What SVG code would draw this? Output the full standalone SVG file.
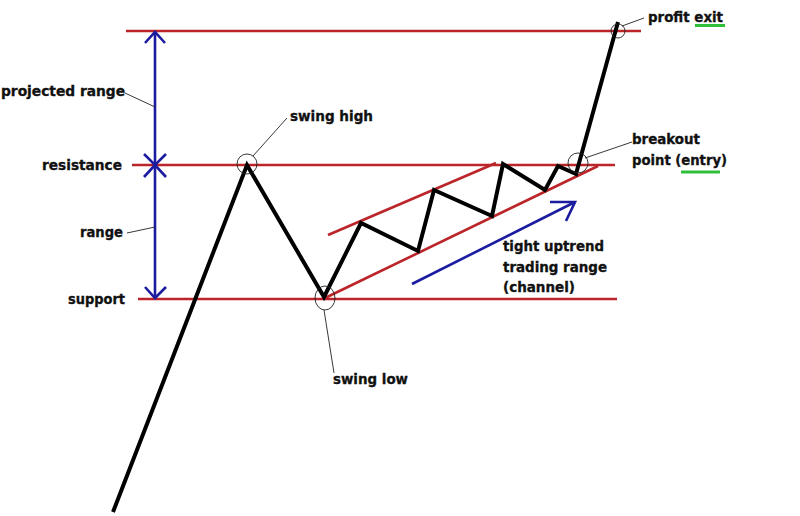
<svg xmlns="http://www.w3.org/2000/svg" width="800" height="516" viewBox="0 0 800 516">
<style>
.red{stroke:#bb2529;stroke-width:2.6;fill:none}
.blue{stroke:#1c1ca0;stroke-width:2.6;fill:none;stroke-linejoin:miter}
.price{stroke:#000;stroke-width:4;fill:none;stroke-linejoin:miter}
.thin{stroke:#222;stroke-width:0.9;fill:none}
.green{stroke:#2fbf3a;stroke-width:3;fill:none}
text{font-family:"DejaVu Sans",Verdana,sans-serif;font-weight:bold;font-size:14.5px;fill:#111;stroke:#111;stroke-width:0.35}
</style>
<rect width="800" height="516" fill="#fff"/>
<g id="levels">
<line class="red" x1="126" y1="31" x2="641" y2="31"/>
<line class="red" x1="132" y1="165" x2="615" y2="165"/>
<line class="red" x1="138" y1="299" x2="617" y2="299"/>
<line class="red" x1="328" y1="235" x2="496" y2="163"/>
<line class="red" x1="325" y1="298" x2="598" y2="166"/>
</g>
<g id="ranges">
<line class="blue" x1="155" y1="32" x2="155" y2="298"/>
<polyline class="blue" points="145,43 155,32 165,43"/>
<polyline class="blue" points="144,154 155,165 166,154"/>
<polyline class="blue" points="144,177 155,165 166,177"/>
<polyline class="blue" points="145,287 155,298 166,287"/>
<line class="blue" x1="412" y1="284" x2="575" y2="202"/>
<polyline class="blue" points="550,202 575,202 566,221"/>
</g>
<g id="price">
<polyline class="price" points="113,512 247,165 324,297 361,223 418,251 434,190 492,216 503,164 545,190 558,166 576,174 618,22"/>
</g>
<g id="connectors">
<line class="thin" x1="125" y1="93" x2="155" y2="107"/>
<line class="thin" x1="127" y1="233" x2="155" y2="227"/>
<line class="thin" x1="253" y1="156" x2="287" y2="118"/>
<line class="thin" x1="324" y1="310" x2="334" y2="373"/>
<line class="thin" x1="585" y1="158" x2="632" y2="142"/>
<line class="thin" x1="622" y1="26" x2="644" y2="18"/>
<ellipse class="thin" cx="247" cy="164" rx="10" ry="10"/>
<ellipse class="thin" cx="325" cy="298" rx="10" ry="12"/>
<ellipse class="thin" cx="578" cy="163" rx="10" ry="10"/>
<ellipse class="thin" cx="618" cy="31" rx="7" ry="7"/>
</g>
<g id="labels">
<text x="1" y="96" textLength="124" lengthAdjust="spacingAndGlyphs">projected range</text>
<text x="42" y="170" textLength="80" lengthAdjust="spacingAndGlyphs">resistance</text>
<text x="80" y="237" textLength="43" lengthAdjust="spacingAndGlyphs">range</text>
<text x="68" y="304" textLength="57" lengthAdjust="spacingAndGlyphs">support</text>
<text x="290" y="121" textLength="83" lengthAdjust="spacingAndGlyphs">swing high</text>
<text x="333" y="384" textLength="75" lengthAdjust="spacingAndGlyphs">swing low</text>
<text x="503" y="251" textLength="101" lengthAdjust="spacingAndGlyphs">tight uptrend</text>
<text x="503" y="272" textLength="104" lengthAdjust="spacingAndGlyphs">trading range</text>
<text x="503" y="292" textLength="72" lengthAdjust="spacingAndGlyphs">(channel)</text>
<text x="632" y="144" textLength="68" lengthAdjust="spacingAndGlyphs">breakout</text>
<text x="632" y="165" textLength="95" lengthAdjust="spacingAndGlyphs">point (entry)</text>
<text x="648" y="22" textLength="75" lengthAdjust="spacingAndGlyphs">profit exit</text>
<line class="green" x1="695" y1="25.5" x2="725" y2="25.5"/>
<line class="green" x1="681" y1="172" x2="720" y2="172"/>
</g>
</svg>
